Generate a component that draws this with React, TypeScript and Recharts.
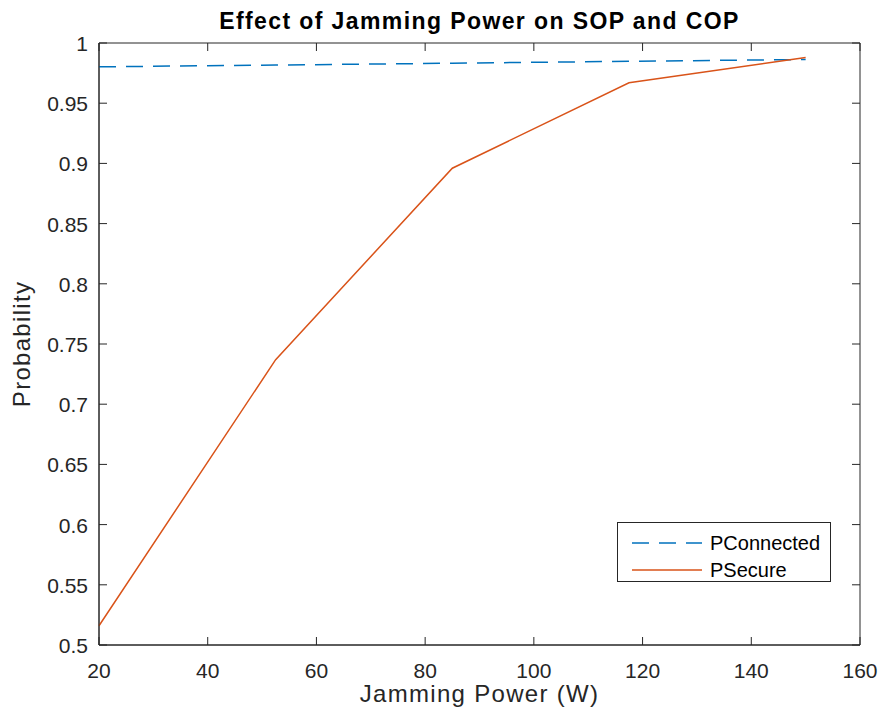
import React from "react";
import { LineChart, Line, XAxis, YAxis, Label, ReferenceArea } from "recharts";

const jammingPower = [20, 52.5, 85, 117.5, 150];
const pConnected = [0.9802, 0.9817, 0.9832, 0.9848, 0.9863];
const pSecure = [0.516, 0.737, 0.896, 0.967, 0.988];

const xTicks = [20, 40, 60, 80, 100, 120, 140, 160];
const yTicks = [0.5, 0.55, 0.6, 0.65, 0.7, 0.75, 0.8, 0.85, 0.9, 0.95, 1];

const BLUE = "#0072BD";
const ORANGE = "#D95319";
const AXIS = "#262626";
const FONT = "'Liberation Sans', Arial, Helvetica, sans-serif";

// plot box edges (from the chart margins below)
const PLOT_LEFT = 99;
const PLOT_RIGHT = 860;
const PLOT_TOP = 43;
const PLOT_BOTTOM = 645;
const TICK_LEN = 8;

const data = jammingPower.map((x, i) => ({
  x,
  connected: pConnected[i],
  secure: pSecure[i],
}));

// matlab style: ticks point inward, on all four sides
const XTick = (props: any) => {
  const { x, payload } = props;
  return (
    <g>
      <line x1={x} y1={PLOT_BOTTOM} x2={x} y2={PLOT_BOTTOM - TICK_LEN} stroke={AXIS} />
      <line x1={x} y1={PLOT_TOP} x2={x} y2={PLOT_TOP + TICK_LEN} stroke={AXIS} />
      <text x={x} y={PLOT_BOTTOM + 33} textAnchor="middle" fontSize={21} fill={AXIS} fontFamily={FONT}>
        {payload.value}
      </text>
    </g>
  );
};

const YTick = (props: any) => {
  const { y, payload } = props;
  return (
    <g>
      <line x1={PLOT_LEFT} y1={y} x2={PLOT_LEFT + TICK_LEN} y2={y} stroke={AXIS} />
      <line x1={PLOT_RIGHT} y1={y} x2={PLOT_RIGHT - TICK_LEN} y2={y} stroke={AXIS} />
      <text x={PLOT_LEFT - 11} y={y + 8} textAnchor="end" fontSize={21} fill={AXIS} fontFamily={FONT}>
        {payload.value}
      </text>
    </g>
  );
};

const App: React.FC = () => {
  return (
    <div style={{ position: "absolute", left: 0, top: 0, width: 883, height: 718, background: "#fff" }}>
      <LineChart
        width={883}
        height={718}
        data={data}
        margin={{ top: 43, right: 23, bottom: 43, left: 39 }}
      >
        <XAxis
          dataKey="x"
          type="number"
          domain={[20, 160]}
          ticks={xTicks}
          height={30}
          stroke={AXIS}
          tickLine={false}
          tickSize={0}
          tick={<XTick />}
          interval={0}
        >
          <Label
            content={(props: any) => {
              const vb = props.viewBox;
              return (
                <text
                  x={vb.x + vb.width / 2}
                  y={702}
                  textAnchor="middle"
                  fontSize={24}
                  letterSpacing={1.3}
                  fill={AXIS}
                  fontFamily={FONT}
                >
                  Jamming Power (W)
                </text>
              );
            }}
          />
        </XAxis>
        <YAxis
          type="number"
          domain={[0.5, 1]}
          ticks={yTicks}
          width={60}
          stroke={AXIS}
          tickLine={false}
          tickSize={0}
          tick={<YTick />}
          interval={0}
        >
          <Label
            content={() => {
              const cy = (PLOT_TOP + PLOT_BOTTOM) / 2;
              return (
                <text
                  x={30}
                  y={cy}
                  transform={`rotate(-90 30 ${cy})`}
                  textAnchor="middle"
                  fontSize={24}
                  letterSpacing={1.3}
                  fill={AXIS}
                  fontFamily={FONT}
                >
                  Probability
                </text>
              );
            }}
          />
        </YAxis>
        <ReferenceArea
          x1={20}
          x2={160}
          y1={0.5}
          y2={1}
          fill="none"
          fillOpacity={0}
          stroke={AXIS}
          strokeWidth={1}
          ifOverflow="extendDomain"
        >
          <Label
            content={(props: any) => {
              const vb = props.viewBox;
              return (
                <text
                  x={vb.x + vb.width / 2}
                  y={29}
                  textAnchor="middle"
                  fontSize={23}
                  fontWeight="bold"
                  letterSpacing={1.4}
                  fill="#000"
                  fontFamily={FONT}
                >
                  Effect of Jamming Power on SOP and COP
                </text>
              );
            }}
          />
        </ReferenceArea>
        <Line
          type="linear"
          dataKey="connected"
          stroke={BLUE}
          strokeWidth={1.5}
          strokeDasharray="17 10"
          dot={false}
          isAnimationActive={false}
        />
        <Line
          type="linear"
          dataKey="secure"
          stroke={ORANGE}
          strokeWidth={1.5}
          dot={false}
          isAnimationActive={false}
        />
      </LineChart>

      {/* legend box, bottom right of the axes */}
      <div
        style={{
          position: "absolute",
          left: 617,
          top: 522,
          width: 214,
          height: 60,
          border: `1px solid ${AXIS}`,
          background: "#fff",
          boxSizing: "border-box",
        }}
      >
        <svg width={212} height={58} style={{ position: "absolute", left: 0, top: 0 }}>
          <line x1={14} y1={20} x2={84} y2={20} stroke={BLUE} strokeWidth={1.5} strokeDasharray="17 10" />
          <line x1={14} y1={47} x2={84} y2={47} stroke={ORANGE} strokeWidth={1.5} />
          <text x={92} y={27} fontSize={20} fill="#000" fontFamily={FONT}>
            PConnected
          </text>
          <text x={92} y={54} fontSize={20} fill="#000" fontFamily={FONT}>
            PSecure
          </text>
        </svg>
      </div>
    </div>
  );
};

export default App;
